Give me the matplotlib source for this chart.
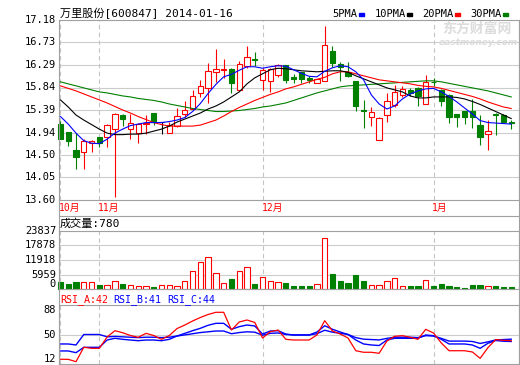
import matplotlib
matplotlib.use('Agg')
import matplotlib.pyplot as plt
import matplotlib.transforms as mtrans
from matplotlib.patches import Rectangle
from matplotlib.lines import Line2D
import numpy as np

# daily k-line data, 2013-10-25 .. 2014-01-16
opens = [15.11, 14.95, 14.59, 14.56, 14.73, 14.85, 14.85, 15.01, 15.30, 15.01,
         14.94, 15.11, 15.34, 15.15, 14.94, 15.07, 15.31, 15.40, 15.72, 15.82,
         16.14, 16.19, 16.20, 15.78, 16.27, 16.40, 15.98, 15.96, 16.09, 16.28,
         16.05, 16.15, 16.02, 15.93, 15.97, 16.56, 16.30, 16.15, 15.97, 15.39,
         15.26, 14.79, 15.30, 15.49, 15.69, 15.79, 15.82, 15.51, 15.95, 15.79,
         15.69, 15.31, 15.37, 15.37, 15.09, 14.91, 15.31, 15.29, 15.15]
highs = [15.17, 14.96, 14.93, 14.81, 14.79, 14.86, 15.11, 15.33, 15.32, 15.32,
         15.13, 15.29, 15.34, 15.16, 15.16, 15.42, 15.56, 15.79, 15.98, 16.33,
         16.61, 16.41, 16.22, 16.37, 16.67, 16.54, 16.22, 16.22, 16.31, 16.29,
         16.10, 16.15, 16.06, 16.00, 17.06, 16.66, 16.35, 16.35, 15.97, 15.59,
         15.44, 15.25, 15.72, 15.89, 15.87, 15.82, 15.84, 16.09, 16.02, 15.80,
         15.70, 15.32, 15.38, 15.61, 15.30, 15.20, 15.33, 15.32, 15.20]
lows = [14.81, 14.68, 14.22, 14.22, 14.56, 14.66, 14.65, 13.65, 15.08, 14.81,
        14.73, 14.91, 15.10, 14.91, 14.94, 15.05, 15.25, 15.40, 15.65, 15.52,
        15.95, 16.02, 15.73, 15.77, 16.22, 16.27, 15.79, 15.75, 16.04, 15.92,
        15.92, 15.92, 15.92, 15.93, 15.96, 16.25, 15.97, 16.05, 15.38, 15.04,
        15.08, 14.79, 15.15, 15.45, 15.65, 15.67, 15.47, 15.50, 15.87, 15.46,
        15.13, 15.05, 15.11, 15.04, 14.69, 14.60, 14.89, 15.15, 15.01]
closes = [14.81, 14.78, 14.45, 14.78, 14.77, 14.74, 15.09, 15.31, 15.21, 15.13,
          15.11, 15.13, 15.16, 15.15, 15.10, 15.28, 15.39, 15.66, 15.87, 16.17,
          16.20, 16.20, 15.92, 16.30, 16.44, 16.39, 16.18, 16.20, 16.28, 15.99,
          16.00, 16.00, 15.99, 16.00, 16.68, 16.33, 16.25, 16.07, 15.47, 15.38,
          15.36, 15.24, 15.56, 15.74, 15.80, 15.72, 15.67, 15.95, 15.94, 15.56,
          15.26, 15.26, 15.26, 15.26, 14.86, 14.97, 15.30, 15.16, 15.14]
volumes = [3000, 2050, 2880, 2750, 2750, 1640, 1520, 3160, 1930, 1520,
           1230, 1110, 820, 1520, 1520, 1230, 3160, 7270, 10970, 13030,
           6450, 2340, 4110, 7270, 8920, 1930, 4810, 3160, 2750, 2470,
           1230, 1230, 1230, 1930, 20840, 6170, 3290, 2470, 5750, 3290,
           1520, 1520, 3160, 4400, 1110, 1230, 1230, 3580, 1230, 2050,
           1230, 820, 530, 1640, 1640, 1230, 1230, 820, 780]

# moving averages as drawn on the chart
ma5 = [15.26, 15.11, 14.93, 14.78, 14.73, 14.72, 14.81, 14.93, 15.01, 15.08,
       15.11, 15.14, 15.14, 15.14, 15.16, 15.19, 15.24, 15.36, 15.52, 15.72,
       15.90, 16.05, 16.10, 16.18, 16.25, 16.25, 16.22, 16.25, 16.27, 16.26,
       16.19, 16.12, 16.06, 16.05, 16.16, 16.23, 16.27, 16.25, 16.15, 15.99,
       15.69, 15.51, 15.41, 15.47, 15.61, 15.71, 15.77, 15.81, 15.82, 15.75,
       15.66, 15.55, 15.43, 15.31, 15.18, 15.14, 15.13, 15.12, 15.11]
ma10 = [15.59, 15.45, 15.29, 15.19, 15.10, 15.01, 14.93, 14.90, 14.90, 14.91,
        14.91, 14.93, 14.97, 15.01, 15.07, 15.15, 15.21, 15.27, 15.33, 15.41,
        15.47, 15.55, 15.65, 15.75, 15.91, 16.03, 16.11, 16.19, 16.22, 16.21,
        16.19, 16.17, 16.16, 16.15, 16.16, 16.17, 16.17, 16.14, 16.07, 16.01,
        15.95, 15.89, 15.83, 15.79, 15.75, 15.67, 15.63, 15.63, 15.65, 15.65,
        15.65, 15.64, 15.61, 15.56, 15.50, 15.43, 15.36, 15.29, 15.22]
ma20 = [15.87, 15.82, 15.77, 15.71, 15.65, 15.59, 15.53, 15.46, 15.39, 15.33,
        15.26, 15.20, 15.14, 15.10, 15.07, 15.07, 15.07, 15.07, 15.09, 15.14,
        15.19, 15.27, 15.36, 15.44, 15.51, 15.58, 15.64, 15.70, 15.75, 15.81,
        15.85, 15.90, 15.95, 16.00, 16.04, 16.11, 16.15, 16.15, 16.11, 16.07,
        16.03, 15.99, 15.97, 15.95, 15.93, 15.91, 15.88, 15.86, 15.85, 15.82,
        15.78, 15.74, 15.70, 15.66, 15.61, 15.55, 15.50, 15.45, 15.42]
ma30 = [15.95, 15.91, 15.87, 15.83, 15.79, 15.75, 15.73, 15.70, 15.67, 15.65,
        15.62, 15.60, 15.58, 15.55, 15.51, 15.48, 15.45, 15.42, 15.40, 15.38,
        15.36, 15.36, 15.37, 15.38, 15.40, 15.42, 15.45, 15.47, 15.50, 15.53,
        15.58, 15.63, 15.68, 15.73, 15.77, 15.81, 15.85, 15.87, 15.88, 15.89,
        15.90, 15.91, 15.92, 15.93, 15.94, 15.95, 15.96, 15.97, 15.97, 15.95,
        15.92, 15.89, 15.86, 15.83, 15.80, 15.77, 15.73, 15.69, 15.65]

rsi_a = [18.1, 18.0, 15.0, 33.5, 32.2, 32.2, 46.8, 54.9, 52.3, 48.7,
         46.4, 51.5, 48.7, 43.8, 48.7, 57.7, 62.2, 67.4, 71.9, 75.8,
         78.6, 78.6, 55.8, 66.1, 68.7, 65.5, 45.5, 53.6, 55.8, 43.8,
         42.9, 42.9, 42.9, 49.4, 67.8, 54.5, 50.6, 45.5, 29.1, 27.1,
         27.1, 25.8, 41.6, 47.7, 48.5, 46.4, 43.8, 56.7, 51.9, 39.1,
         29.1, 29.1, 29.1, 27.5, 19.3, 33.0, 43.5, 42.5, 42.0]
rsi_b = [28.8, 28.8, 26.6, 33.5, 33.5, 33.5, 42.9, 45.1, 43.8, 42.9,
         42.0, 42.9, 42.9, 42.0, 43.8, 48.1, 51.5, 54.9, 58.0, 61.9,
         64.4, 64.4, 56.7, 60.1, 62.2, 61.0, 50.6, 54.5, 54.9, 50.6,
         49.4, 49.4, 49.4, 53.2, 61.3, 56.7, 53.2, 50.0, 42.9, 37.8,
         36.5, 35.8, 42.9, 45.1, 45.1, 45.1, 45.1, 49.4, 48.5, 43.8,
         37.8, 37.8, 37.8, 36.5, 32.2, 38.7, 42.3, 41.3, 41.0]
rsi_c = [37.8, 37.8, 36.5, 50.0, 50.0, 50.0, 47.0, 47.5, 47.0, 46.5,
         46.0, 46.5, 46.5, 46.0, 46.5, 48.0, 49.5, 51.0, 52.5, 53.5,
         54.5, 54.5, 51.0, 52.5, 53.5, 53.0, 49.0, 51.5, 52.0, 50.0,
         49.4, 49.4, 49.4, 51.0, 55.5, 53.0, 51.5, 50.0, 46.0, 44.0,
         43.5, 43.0, 45.0, 46.5, 46.5, 46.5, 46.0, 48.5, 48.0, 45.0,
         41.5, 41.5, 41.5, 41.0, 38.5, 40.5, 43.0, 43.5, 44.0]

price_ticks = ['13.60', '14.05', '14.50', '14.94', '15.39', '15.84', '16.29', '16.73', '17.18']
vol_ticks = ['0', '5959', '11918', '17878', '23837']
rsi_ticks = ['12', '50', '88']
month_pos = [0, 5, 26, 48]
month_names = ['10月', '11月', '12月', '1月']
ma_names = ['5PMA', '10PMA', '20PMA', '30PMA']

UP = '#ff0000'
DOWN = '#008000'
FRAME = '#a0a0a0'
GRID = '#cccccc'
MONO = 'DejaVu Sans Mono'
CJK = ['DejaVu Sans Mono', 'Noto Sans CJK SC']
ma_colors = ['#0000ff', '#000000', '#ff0000', '#008000']

W, H = 520, 365
fig = plt.figure(figsize=(W / 100, H / 100), dpi=100)


def fx(px):
    return px / W


def fy(py):
    return 1 - py / H


def panel(top, bottom):
    return fig.add_axes([fx(59), fy(bottom), 460 / W, (bottom - top) / H])


def fline(x0, y0, x1, y1):
    fig.add_artist(Line2D([fx(x0), fx(x1)], [fy(y0), fy(y1)], color=FRAME, lw=0.8))


ax_k = panel(20, 200)
ax_v = panel(231, 289)
ax_r = panel(305, 364)

n = len(closes)
idx = np.arange(n)
for ax in (ax_k, ax_v, ax_r):
    ax.set_xlim(-0.19, 59.0)
    ax.set_xticks([])
    ax.set_yticks([])
    for s in ax.spines.values():
        s.set_color(FRAME)
        s.set_linewidth(0.8)
    for m in month_pos:
        ax.axvline(m, color='#c4c4c4', lw=0.8, ls=(0, (4, 3)), zorder=0)

# frame around the label strip and panel headers
fline(59, 200, 59, 364)
fline(519, 20, 519, 364)
fline(59, 216, 519, 216)

# ---- price panel
levels = np.linspace(float(price_ticks[0]), float(price_ticks[-1]), len(price_ticks))
ax_k.set_ylim(levels[0], levels[-1])
tr = mtrans.blended_transform_factory(fig.transFigure, ax_k.transData)
for v, s in zip(levels, price_ticks):
    if 0 < v - levels[0] < levels[-1] - levels[0]:
        ax_k.axhline(v, color=GRID, lw=0.8, zorder=0)
    ax_k.text(fx(56), v, s, transform=tr, ha='right', va='center', family=MONO, size=7.5)

bw = 0.68
for i in range(n):
    o, h, l, c = opens[i], highs[i], lows[i], closes[i]
    if c > o:
        ax_k.vlines(i, c, h, color=UP, lw=0.8, zorder=2)
        ax_k.vlines(i, l, o, color=UP, lw=0.8, zorder=2)
        ax_k.add_patch(Rectangle((i - bw / 2, o), bw, c - o, fc='white', ec=UP,
                                 lw=0.8, zorder=2, clip_on=False))
    elif c < o:
        ax_k.vlines(i, l, h, color=DOWN, lw=0.8, zorder=2)
        ax_k.add_patch(Rectangle((i - bw / 2, c), bw, o - c, fc=DOWN, ec=DOWN,
                                 lw=0.8, zorder=2, clip_on=False))
    else:
        ax_k.vlines(i, l, h, color='black', lw=0.8, zorder=2)
        ax_k.hlines(o, i - bw / 2, i + bw / 2, color='black', lw=0.8, zorder=2)

for vals, col in zip([ma30, ma20, ma10, ma5], ma_colors[::-1]):
    ax_k.plot(idx, vals, color=col, lw=0.8, zorder=3)

# month labels under the price panel
tm = mtrans.blended_transform_factory(ax_k.transData, fig.transFigure)
for m, s in zip(month_pos, month_names):
    ax_k.text(m - 0.15, fy(208), s, transform=tm, color=UP, family=CJK, size=7,
              ha='left', va='center', clip_on=False)

# ---- volume panel
vlev = [int(s) for s in vol_ticks]
ax_v.set_ylim(vlev[0], vlev[-1])
tv = mtrans.blended_transform_factory(fig.transFigure, ax_v.transData)
for v, s in zip(vlev, vol_ticks):
    if 0 < v < vlev[-1]:
        ax_v.axhline(v, color=GRID, lw=0.8, zorder=0)
    ax_v.text(fx(56), v, s, transform=tv, ha='right',
              va='bottom' if v == 0 else 'center', family=MONO, size=7.5)
for i in range(n):
    if closes[i] >= opens[i]:
        ax_v.add_patch(Rectangle((i - bw / 2, 0), bw, volumes[i], fc='white', ec=UP,
                                 lw=0.8, zorder=2, clip_on=False))
    else:
        ax_v.add_patch(Rectangle((i - bw / 2, 0), bw, volumes[i], fc=DOWN, ec=DOWN,
                                 lw=0.8, zorder=2, clip_on=False))

# ---- RSI panel
rlev = [int(s) for s in rsi_ticks]
ax_r.set_ylim(rlev[0], rlev[-1])
ax_r.axhline(rlev[1], color=GRID, lw=0.8, zorder=0)
trr = mtrans.blended_transform_factory(fig.transFigure, ax_r.transData)
for v, s, va in zip(rlev, rsi_ticks, ['bottom', 'center', 'top']):
    ax_r.text(fx(56), v, s, transform=trr, ha='right', va=va, family=MONO, size=7.5)
ax_r.plot(idx, rsi_c, color='#0000ff', lw=1.0, zorder=2)
ax_r.plot(idx, rsi_b, color='#0000ff', lw=1.0, zorder=2)
ax_r.plot(idx, rsi_a, color=UP, lw=0.9, zorder=3)

# ---- titles, legend, headers
fig.text(fx(60), fy(13.5), '万里股份[600847] 2014-01-16', family=CJK, size=8, va='center')
for name, col, tx, dx in zip(ma_names, ma_colors, [332, 375, 422, 470], [359, 407, 455, 503]):
    fig.text(fx(tx), fy(14), name, family=MONO, size=7.5, va='center')
    fig.add_artist(Rectangle((fx(dx), fy(15.5)), 5 / W, 3 / H, transform=fig.transFigure,
                             color=col))

fig.text(fx(477), fy(29), '东方财富网', color='#dcdcdc', family='Noto Sans CJK SC',
         weight='bold', size=10, ha='center', va='center')
fig.text(fx(478), fy(42.5), 'eastmoney.com', color='#dcdcdc', weight='bold',
         style='italic', size=6.5, ha='center', va='center')

fig.text(fx(60), fy(224), '成交量:780', family=CJK, size=8, va='center')
fig.text(fx(60), fy(300), 'RSI_A:42', color=UP, family=MONO, size=7.2, va='center')
fig.text(fx(113), fy(300), 'RSI_B:41', color='#0000ff', family=MONO, size=7.2, va='center')
fig.text(fx(167), fy(300), 'RSI_C:44', color='#0000ff', family=MONO, size=7.2, va='center')

fig.savefig('out.png', dpi=100, facecolor='white')
